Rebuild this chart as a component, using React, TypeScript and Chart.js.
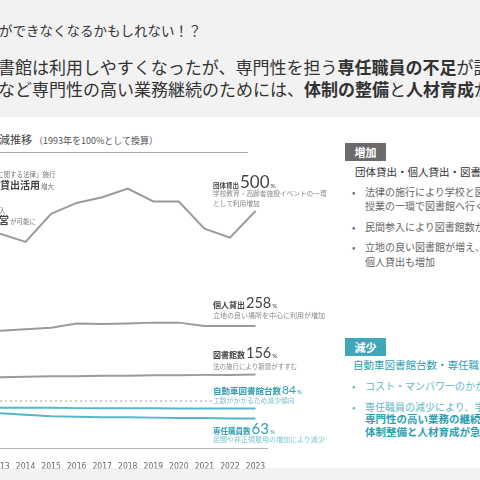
import React, { useEffect, useRef } from "react";
import { Chart, registerables } from "chart.js";

Chart.register(...registerables);

const years = [2013, 2014, 2015, 2016, 2017, 2018, 2019, 2020, 2021, 2022, 2023];
const groupLending = [452, 435, 494, 517, 529, 547, 520, 520, 463, 444, 500];
const personalLending = [248, 251, 254, 263, 262, 263, 265, 265, 258, 258, 258];
const libraryCount = [150, 151, 152, 152, 153, 153, 154, 154, 155, 155, 156];
const mobileLibraries = [86, 86, 86, 85, 85, 85, 85, 84, 84, 84, 84];
const fullTimeStaff = [74, 71, 68, 67, 66, 66, 65, 64, 64, 63, 63];
const baseline = [100, 100, 100, 100, 100, 100, 100, 100, 100, 100, 100];

const JP = '"Noto Sans CJK JP", "Noto Sans", sans-serif';
const NUM = 'Lato, "Open Sans", sans-serif';
const GRAY = "#9a9a9a";
const CYAN = "#55b8c6";
const CYAN_TEXT = "#2f9fb1";

function Abs(props: { left: number; top: number; style?: React.CSSProperties; children: React.ReactNode }) {
  return (
    <div
      style={{
        position: "absolute",
        left: props.left,
        top: props.top,
        whiteSpace: "nowrap",
        lineHeight: 1,
        fontFamily: JP,
        ...props.style,
      }}
    >
      {props.children}
    </div>
  );
}

function EndLabel(props: {
  left: number;
  top: number;
  name: string;
  nameSize: number;
  value: string;
  valueSize: number;
  color: string;
}) {
  return (
    <div
      style={{
        position: "absolute",
        left: props.left,
        top: props.top,
        display: "flex",
        alignItems: "baseline",
        whiteSpace: "nowrap",
        lineHeight: 1,
        color: props.color,
      }}
    >
      <span style={{ fontFamily: JP, fontWeight: 700, fontSize: props.nameSize }}>{props.name}</span>
      <span style={{ fontFamily: NUM, fontSize: props.valueSize, marginLeft: 1 }}>{props.value}</span>
      <span style={{ fontFamily: NUM, fontSize: 6.5, marginLeft: 1 }}>%</span>
    </div>
  );
}

export default function App() {
  const ref = useRef<HTMLCanvasElement>(null);

  useEffect(() => {
    if (!ref.current) return;
    const pts = (arr: number[]) => years.map((y, i) => ({ x: y, y: arr[i] }));
    const chart = new Chart(ref.current, {
      type: "line",
      data: {
        datasets: [
          { label: "100%", data: pts(baseline), borderColor: "#cfcfcf", borderWidth: 2, borderDash: [2, 3] },
          { label: "団体貸出", data: pts(groupLending), borderColor: GRAY, borderWidth: 2 },
          { label: "個人貸出", data: pts(personalLending), borderColor: GRAY, borderWidth: 2 },
          { label: "図書館数", data: pts(libraryCount), borderColor: GRAY, borderWidth: 2 },
          { label: "自動車図書館台数", data: pts(mobileLibraries), borderColor: CYAN, borderWidth: 2 },
          { label: "専任職員数", data: pts(fullTimeStaff), borderColor: CYAN, borderWidth: 2 },
        ],
      },
      options: {
        animation: false,
        responsive: false,
        maintainAspectRatio: false,
        layout: { padding: { left: 30, right: 33, top: 13.5, bottom: 1.5 } },
        plugins: { legend: { display: false }, tooltip: { enabled: false } },
        elements: { point: { radius: 0 }, line: { tension: 0 } },
        scales: {
          x: {
            type: "linear",
            min: 2013,
            max: 2023.45,
            grid: { display: false },
            border: { display: true, color: "#b5b5b5", width: 1 },
            ticks: {
              stepSize: 1,
              includeBounds: false,
              autoSkip: false,
              maxRotation: 0,
              padding: 5,
              color: "#666",
              font: { family: '"DejaVu Sans Condensed", sans-serif', size: 8.5 },
              callback: (v: any) => String(v),
            },
            afterFit: (s: any) => {
              s.height = 20;
            },
          },
          y: { display: false, min: 0, max: 600 },
        },
      },
    } as any);
    return () => chart.destroy();
  }, []);

  return (
    <div
      style={{
        position: "fixed",
        left: 0,
        top: 0,
        width: 480,
        height: 480,
        overflow: "hidden",
        background: "#f2f2f2",
        fontFamily: JP,
      }}
    >
      {/* headline */}
      <Abs left={-1} top={24} style={{ fontSize: 13.5, color: "#333" }}>
        がで​きなくなるかもしれない！？
      </Abs>
      <Abs left={-2} top={58} style={{ fontSize: 17, color: "#333" }}>
        書館は利用しやすくなったが、専門性を担う<b>専任職員の不足</b>が課題
      </Abs>
      <Abs left={-2} top={80} style={{ fontSize: 17, color: "#333" }}>
        など専門性の高い業務継続のためには、<b>体制の整備</b>と<b>人材育成</b>が急務
      </Abs>

      {/* white panel */}
      <div style={{ position: "absolute", left: 0, top: 117, width: 480, height: 351, background: "#fff" }} />

      {/* chart title */}
      <Abs left={-12} top={134} style={{ fontSize: 11, color: "#444", display: "flex", alignItems: "baseline" }}>
        <span>増減推移</span>
        <span style={{ fontSize: 9, color: "#555", marginLeft: 2 }}>（1993年を100%として換算）</span>
      </Abs>
      <div style={{ position: "absolute", left: 0, top: 152, width: 248, height: 1, background: "#a8a8a8" }} />

      <canvas ref={ref} width={330} height={320} style={{ position: "absolute", left: -30, top: 150 }} />

      {/* left annotations */}
      <Abs left={-3} top={171} style={{ fontSize: 6.5, color: "#777" }}>
        に関する法律」施行
      </Abs>
      <Abs left={0} top={180} style={{ color: "#444", display: "flex", alignItems: "baseline" }}>
        <span style={{ fontSize: 10, fontWeight: 700 }}>貸出活用</span>
        <span style={{ fontSize: 6.5, color: "#777", marginLeft: 1 }}>増大</span>
      </Abs>
      <Abs left={-1} top={207} style={{ fontSize: 6.5, color: "#777" }}>
        入
      </Abs>
      <Abs left={-1} top={215} style={{ color: "#444", display: "flex", alignItems: "baseline" }}>
        <span style={{ fontSize: 10, fontWeight: 700 }}>営</span>
        <span style={{ fontSize: 6.5, color: "#777", marginLeft: 1 }}>が可能に</span>
      </Abs>

      {/* series end labels */}
      <EndLabel left={213} top={173} name="団体貸出" nameSize={6.5} value="500" valueSize={17} color="#444" />
      <Abs left={213} top={190} style={{ fontSize: 6.7, color: "#888" }}>
        学校教育・高齢者施設イベントの一環
      </Abs>
      <Abs left={213} top={200} style={{ fontSize: 6.7, color: "#888" }}>
        として利用増加
      </Abs>

      <EndLabel left={213} top={296} name="個人貸出" nameSize={8} value="258" valueSize={14.5} color="#444" />
      <Abs left={213} top={312} style={{ fontSize: 7, color: "#888" }}>
        立地の良い場所を中心に利用が増加
      </Abs>

      <EndLabel left={213} top={346} name="図書館数" nameSize={8} value="156" valueSize={14.5} color="#444" />
      <Abs left={213} top={363} style={{ fontSize: 6.5, color: "#888" }}>
        法の施行により新設がすすむ
      </Abs>

      <EndLabel left={213} top={384} name="自動車図書館台数" nameSize={8.5} value="84" valueSize={12} color={CYAN_TEXT} />
      <Abs left={213} top={397} style={{ fontSize: 6.8, color: "#7cc6d1", background: "#fff" }}>
        工数がかかるため減少傾向
      </Abs>

      <EndLabel left={213} top={421} name="専任職員数" nameSize={7.5} value="63" valueSize={15} color={CYAN_TEXT} />
      <Abs left={213} top={436} style={{ fontSize: 7, color: "#7cc6d1" }}>
        民間や非正規雇用の増加により減少
      </Abs>

      {/* right panel: increase */}
      <div
        style={{
          position: "absolute",
          left: 345,
          top: 143,
          width: 41,
          height: 18,
          background: "#6b6b6b",
          color: "#fff",
          fontFamily: JP,
          fontWeight: 700,
          fontSize: 11,
          lineHeight: "18px",
          textAlign: "center",
        }}
      >
        増加
      </div>
      <Abs left={355} top={167} style={{ fontSize: 10.5, color: "#333" }}>
        団体貸出・個人貸出・図書館数
      </Abs>
      <Abs left={352} top={187} style={{ fontSize: 10, color: "#666" }}>
        •
      </Abs>
      <Abs left={365} top={187} style={{ fontSize: 10, color: "#666" }}>
        法律の施行により学校と図書館の連携が進み、
      </Abs>
      <Abs left={365} top={201} style={{ fontSize: 10, color: "#666" }}>
        授業の一環で図書館へ行く機会が増加
      </Abs>
      <Abs left={352} top={222} style={{ fontSize: 10, color: "#666" }}>
        •
      </Abs>
      <Abs left={365} top={222} style={{ fontSize: 10, color: "#666" }}>
        民間参入により図書館数が増加
      </Abs>
      <Abs left={352} top={242} style={{ fontSize: 10, color: "#666" }}>
        •
      </Abs>
      <Abs left={365} top={242} style={{ fontSize: 10, color: "#666" }}>
        立地の良い図書館が増え、
      </Abs>
      <Abs left={365} top={257} style={{ fontSize: 10, color: "#666" }}>
        個人貸出も増加
      </Abs>

      {/* right panel: decrease */}
      <div
        style={{
          position: "absolute",
          left: 345,
          top: 338,
          width: 41,
          height: 18,
          background: "#3ea8b8",
          color: "#fff",
          fontFamily: JP,
          fontWeight: 700,
          fontSize: 11,
          lineHeight: "18px",
          textAlign: "center",
        }}
      >
        減少
      </div>
      <Abs left={353} top={360} style={{ fontSize: 10.5, color: CYAN_TEXT }}>
        自動車図書館台数・専任職員数
      </Abs>
      <Abs left={352} top={381} style={{ fontSize: 10, color: "#5fb9c6" }}>
        •
      </Abs>
      <Abs left={365} top={381} style={{ fontSize: 10, color: "#5fb9c6" }}>
        コスト・マンパワーのかかる自動車図書館は減少
      </Abs>
      <Abs left={352} top={402} style={{ fontSize: 10, color: "#5fb9c6" }}>
        •
      </Abs>
      <Abs left={365} top={402} style={{ fontSize: 10, color: "#5fb9c6" }}>
        専任職員の減少により、学校との連携など
      </Abs>
      <Abs left={365} top={414} style={{ fontSize: 10.5, color: CYAN_TEXT, fontWeight: 700 }}>
        専門性の高い業務の継続が困難に
      </Abs>
      <Abs left={365} top={427} style={{ fontSize: 10.5, color: CYAN_TEXT, fontWeight: 700 }}>
        体制整備と人材育成が急務
      </Abs>
    </div>
  );
}
